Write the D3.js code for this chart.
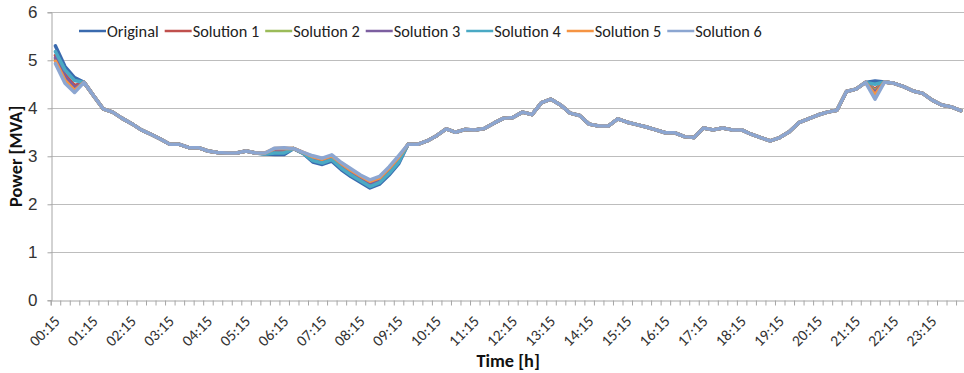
<!DOCTYPE html>
<html>
<head>
<meta charset="utf-8">
<script src="https://cdn.jsdelivr.net/npm/d3@7/dist/d3.min.js"></script>
<style>
  html, body { margin: 0; padding: 0; background: #fff; }
  svg { display: block; font-family: Carlito, Lato, "Open Sans", sans-serif; }
</style>
</head>
<body>
<svg id="chart" width="964" height="373"></svg>
<script>
// 15-minute intervals over one day
const times = [
  "00:15","00:30","00:45","01:00","01:15","01:30","01:45","02:00","02:15","02:30","02:45","03:00",
  "03:15","03:30","03:45","04:00","04:15","04:30","04:45","05:00","05:15","05:30","05:45","06:00",
  "06:15","06:30","06:45","07:00","07:15","07:30","07:45","08:00","08:15","08:30","08:45","09:00",
  "09:15","09:30","09:45","10:00","10:15","10:30","10:45","11:00","11:15","11:30","11:45","12:00",
  "12:15","12:30","12:45","13:00","13:15","13:30","13:45","14:00","14:15","14:30","14:45","15:00",
  "15:15","15:30","15:45","16:00","16:15","16:30","16:45","17:00","17:15","17:30","17:45","18:00",
  "18:15","18:30","18:45","19:00","19:15","19:30","19:45","20:00","20:15","20:30","20:45","21:00",
  "21:15","21:30","21:45","22:00","22:15","22:30","22:45","23:00","23:15","23:30","23:45","24:00"
];

// labelled categories on the time axis
const tickLabels = [
  "00:15","01:15","02:15","03:15","04:15","05:15","06:15","07:15","08:15","09:15","10:15","11:15",
  "12:15","13:15","14:15","15:15","16:15","17:15","18:15","19:15","20:15","21:15","22:15","23:15"
];

const yTicks = [0, 1, 2, 3, 4, 5, 6];

// Power profiles [MVA]
const original = [
  5.30,4.87,4.64,4.54,4.26,3.99,3.92,3.79,3.68,3.55,
  3.46,3.36,3.25,3.25,3.18,3.18,3.11,3.08,3.07,3.07,
  3.11,3.07,3.05,3.04,3.04,3.16,3.06,2.88,2.83,2.90,
  2.72,2.58,2.46,2.34,2.42,2.61,2.84,3.25,3.25,3.32,
  3.43,3.57,3.50,3.56,3.55,3.58,3.69,3.79,3.81,3.92,
  3.87,4.12,4.19,4.07,3.90,3.85,3.67,3.63,3.63,3.78,
  3.71,3.66,3.61,3.55,3.49,3.49,3.41,3.39,3.59,3.55,
  3.59,3.55,3.55,3.46,3.39,3.32,3.39,3.51,3.70,3.78,
  3.86,3.92,3.96,4.35,4.40,4.54,4.57,4.55,4.52,4.45,
  4.36,4.31,4.17,4.07,4.03,3.95
];
const solution1 = [
  5.10,4.70,4.47,4.54,4.26,3.99,3.92,3.79,3.68,3.55,
  3.46,3.36,3.25,3.25,3.18,3.18,3.11,3.08,3.07,3.07,
  3.11,3.07,3.06,3.12,3.13,3.16,3.07,2.94,2.89,2.96,
  2.79,2.65,2.53,2.42,2.49,2.69,2.92,3.25,3.25,3.32,
  3.43,3.57,3.50,3.56,3.55,3.58,3.69,3.79,3.81,3.92,
  3.87,4.12,4.19,4.07,3.90,3.85,3.67,3.63,3.63,3.78,
  3.71,3.66,3.61,3.55,3.49,3.49,3.41,3.39,3.59,3.55,
  3.59,3.55,3.55,3.46,3.39,3.32,3.39,3.51,3.70,3.78,
  3.86,3.92,3.96,4.35,4.40,4.54,4.40,4.55,4.52,4.45,
  4.36,4.31,4.17,4.07,4.03,3.95
];
const solution2 = [
  5.02,4.63,4.41,4.54,4.26,3.99,3.92,3.79,3.68,3.55,
  3.46,3.36,3.25,3.25,3.18,3.18,3.11,3.08,3.07,3.07,
  3.11,3.07,3.06,3.14,3.15,3.16,3.07,2.96,2.91,2.98,
  2.82,2.68,2.56,2.45,2.52,2.72,2.95,3.25,3.25,3.32,
  3.43,3.57,3.50,3.56,3.55,3.58,3.69,3.79,3.81,3.92,
  3.87,4.12,4.19,4.07,3.90,3.85,3.67,3.63,3.63,3.78,
  3.71,3.66,3.61,3.55,3.49,3.49,3.41,3.39,3.59,3.55,
  3.59,3.55,3.55,3.46,3.39,3.32,3.39,3.51,3.70,3.78,
  3.86,3.92,3.96,4.35,4.40,4.54,4.36,4.55,4.52,4.45,
  4.36,4.31,4.17,4.07,4.03,3.95
];
const solution3 = [
  5.05,4.66,4.43,4.54,4.26,3.99,3.92,3.79,3.68,3.55,
  3.46,3.36,3.25,3.25,3.18,3.18,3.11,3.08,3.07,3.07,
  3.11,3.07,3.06,3.14,3.15,3.16,3.07,2.95,2.90,2.97,
  2.80,2.67,2.54,2.43,2.51,2.70,2.93,3.25,3.25,3.32,
  3.43,3.57,3.50,3.56,3.55,3.58,3.69,3.79,3.81,3.92,
  3.87,4.12,4.19,4.07,3.90,3.85,3.67,3.63,3.63,3.78,
  3.71,3.66,3.61,3.55,3.49,3.49,3.41,3.39,3.59,3.55,
  3.59,3.55,3.55,3.46,3.39,3.32,3.39,3.51,3.70,3.78,
  3.86,3.92,3.96,4.35,4.40,4.54,4.33,4.55,4.52,4.45,
  4.36,4.31,4.17,4.07,4.03,3.95
];
const solution4 = [
  5.18,4.80,4.58,4.54,4.26,3.99,3.92,3.79,3.68,3.55,
  3.46,3.36,3.25,3.25,3.18,3.18,3.11,3.08,3.07,3.07,
  3.11,3.07,3.05,3.07,3.07,3.16,3.06,2.91,2.86,2.93,
  2.75,2.61,2.49,2.37,2.45,2.64,2.87,3.25,3.25,3.32,
  3.43,3.57,3.50,3.56,3.55,3.58,3.69,3.79,3.81,3.92,
  3.87,4.12,4.19,4.07,3.90,3.85,3.67,3.63,3.63,3.78,
  3.71,3.66,3.61,3.55,3.49,3.49,3.41,3.39,3.59,3.55,
  3.59,3.55,3.55,3.46,3.39,3.32,3.39,3.51,3.70,3.78,
  3.86,3.92,3.96,4.35,4.40,4.54,4.50,4.55,4.52,4.45,
  4.36,4.31,4.17,4.07,4.03,3.95
];
const solution5 = [
  4.98,4.58,4.37,4.54,4.26,3.99,3.92,3.79,3.68,3.55,
  3.46,3.36,3.25,3.25,3.18,3.18,3.11,3.08,3.07,3.07,
  3.11,3.07,3.07,3.16,3.17,3.16,3.08,2.99,2.94,3.01,
  2.85,2.71,2.59,2.48,2.55,2.75,2.98,3.25,3.25,3.32,
  3.43,3.57,3.50,3.56,3.55,3.58,3.69,3.79,3.81,3.92,
  3.87,4.12,4.19,4.07,3.90,3.85,3.67,3.63,3.63,3.78,
  3.71,3.66,3.61,3.55,3.49,3.49,3.41,3.39,3.59,3.55,
  3.59,3.55,3.55,3.46,3.39,3.32,3.39,3.51,3.70,3.78,
  3.86,3.92,3.96,4.35,4.40,4.54,4.28,4.55,4.52,4.45,
  4.36,4.31,4.17,4.07,4.03,3.95
];
const solution6 = [
  4.93,4.52,4.33,4.54,4.26,3.99,3.92,3.79,3.68,3.55,
  3.46,3.36,3.25,3.25,3.18,3.18,3.11,3.08,3.07,3.07,
  3.11,3.07,3.07,3.17,3.18,3.16,3.08,3.01,2.96,3.03,
  2.87,2.74,2.61,2.51,2.58,2.78,3.01,3.25,3.25,3.32,
  3.43,3.57,3.50,3.56,3.55,3.58,3.69,3.79,3.81,3.92,
  3.87,4.12,4.19,4.07,3.90,3.85,3.67,3.63,3.63,3.78,
  3.71,3.66,3.61,3.55,3.49,3.49,3.41,3.39,3.59,3.55,
  3.59,3.55,3.55,3.46,3.39,3.32,3.39,3.51,3.70,3.78,
  3.86,3.92,3.96,4.35,4.40,4.54,4.19,4.55,4.52,4.45,
  4.36,4.31,4.17,4.07,4.03,3.95
];

const seriesNames = ["Original", "Solution 1", "Solution 2", "Solution 3", "Solution 4", "Solution 5", "Solution 6"];
const seriesValues = [original, solution1, solution2, solution3, solution4, solution5, solution6];
const seriesColors = ["#3a6aae", "#c0504d", "#9bbb59", "#7c5fa0", "#4aa9c4", "#f59443", "#8ca6d1"];

const svg = d3.select("#chart");
const margin = { left: 50.7, top: 12.3 };
const step = 9.53;
const plotH = 288;
const plotRight = margin.left + step * times.length;
const plotBottom = margin.top + plotH;

const x = d3.scaleBand().domain(times).range([margin.left, plotRight]).paddingInner(0).paddingOuter(0);
const xBound = d3.scaleLinear().domain([0, times.length]).range([margin.left, plotRight]);
const y = d3.scaleLinear().domain([0, 6]).range([plotBottom, margin.top]);
const cx = t => x(t) + x.bandwidth() / 2;

// horizontal gridlines
svg.append("g")
  .selectAll("line")
  .data(yTicks.filter(v => v > 0))
  .join("line")
  .attr("x1", margin.left).attr("x2", plotRight)
  .attr("y1", d => Math.round(y(d)) + 0.5).attr("y2", d => Math.round(y(d)) + 0.5)
  .attr("stroke", "#bdbdbd").attr("stroke-width", 1);

// y axis
const yAxis = svg.append("g")
  .attr("transform", `translate(${Math.round(margin.left) + 0.5},0)`)
  .call(d3.axisLeft(y).tickValues(yTicks).tickSize(4).tickPadding(10).tickFormat(d3.format("d")));
yAxis.select(".domain").attr("stroke", "#a6a6a6");
yAxis.selectAll(".tick line").attr("stroke", "#a6a6a6");
yAxis.selectAll(".tick text").attr("font-size", 17).attr("fill", "#333");

// x axis: ticks on category boundaries
const xAxis = svg.append("g")
  .attr("transform", `translate(0,${Math.round(plotBottom) + 0.5})`)
  .call(d3.axisBottom(xBound).tickValues(d3.range(0, times.length + 1)).tickSize(5).tickFormat(""));
xAxis.select(".domain").attr("stroke", "#a6a6a6");
xAxis.selectAll(".tick line").attr("stroke", "#a6a6a6");

// rotated category labels
svg.append("g")
  .selectAll("text")
  .data(tickLabels)
  .join("text")
  .attr("transform", d => `translate(${cx(d) + 1.5},${plotBottom + 18}) rotate(-45)`)
  .attr("text-anchor", "end")
  .attr("dy", "0.35em")
  .attr("font-size", 15.5)
  .attr("fill", "#333")
  .text(d => d);

// series lines
const line = d3.line()
  .x((d, i) => cx(times[i]))
  .y(d => y(d));

svg.append("g")
  .selectAll("path")
  .data(seriesValues)
  .join("path")
  .attr("d", d => line(d))
  .attr("fill", "none")
  .attr("stroke", (d, i) => seriesColors[i])
  .attr("stroke-width", 3.5)
  .attr("stroke-linejoin", "round")
  .attr("stroke-linecap", "round");

// legend
const legend = svg.append("g").attr("transform", "translate(79,31)");
let lx = 0;
seriesNames.forEach((name, i) => {
  const g = legend.append("g").attr("transform", `translate(${lx},0)`);
  g.append("line").attr("x1", 0).attr("x2", 27).attr("y1", 0).attr("y2", 0)
    .attr("stroke", seriesColors[i]).attr("stroke-width", 2.5);
  const t = g.append("text").attr("x", 28).attr("dy", "0.35em")
    .attr("font-size", 16.3).attr("fill", "#222").text(name);
  lx += 28 + t.node().getComputedTextLength() + 6;
});

// axis titles
svg.append("text")
  .attr("transform", `translate(22,${margin.top + plotH / 2}) rotate(-90)`)
  .attr("text-anchor", "middle")
  .attr("font-size", 18.3).attr("font-weight", "bold").attr("fill", "#111")
  .text("Power [MVA]");

svg.append("text")
  .attr("x", (margin.left + plotRight) / 2)
  .attr("y", 367)
  .attr("text-anchor", "middle")
  .attr("font-size", 18.3).attr("font-weight", "bold").attr("fill", "#111")
  .text("Time [h]");
</script>
</body>
</html>
